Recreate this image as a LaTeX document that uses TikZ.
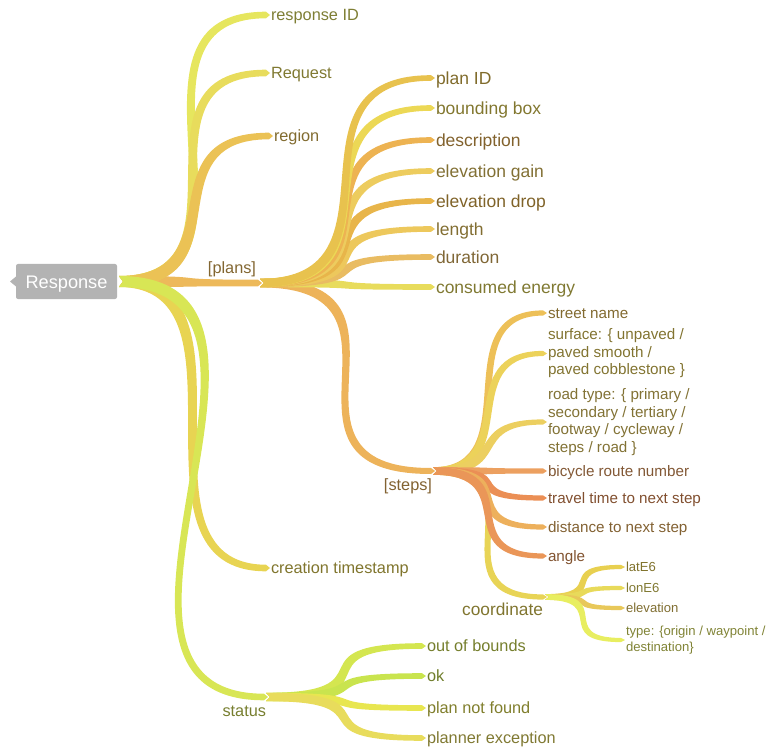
\documentclass[tikz,border=0pt]{standalone}
\usepackage{fontspec}
\setmainfont{Liberation Sans}
\usetikzlibrary{calc}

% branch colours
\definecolor{rootgray}{HTML}{B3B3B3}
\definecolor{cRid}{HTML}{E6E65E}
\definecolor{cReq}{HTML}{E8DC5C}
\definecolor{cReg}{HTML}{EBC255}
\definecolor{cPlans}{HTML}{EDB95A}
\definecolor{cCts}{HTML}{E8D452}
\definecolor{cStatus}{HTML}{D8E655}
\definecolor{cPid}{HTML}{E8C24E}
\definecolor{cBbox}{HTML}{ECD855}
\definecolor{cDesc}{HTML}{EDB352}
\definecolor{cEgain}{HTML}{EDCC5E}
\definecolor{cEdrop}{HTML}{E8B54A}
\definecolor{cLen}{HTML}{EDC85C}
\definecolor{cDur}{HTML}{E9BC62}
\definecolor{cEnergy}{HTML}{E8DC5C}
\definecolor{cSteps}{HTML}{EDB35A}
\definecolor{cStreet}{HTML}{EDC058}
\definecolor{cSurf}{HTML}{ECD25A}
\definecolor{cRoad}{HTML}{ECCF60}
\definecolor{cBike}{HTML}{ECA060}
\definecolor{cTtime}{HTML}{EB8F55}
\definecolor{cDist}{HTML}{EDB05C}
\definecolor{cAngle}{HTML}{EA9658}
\definecolor{cCoord}{HTML}{E8D456}
\definecolor{cLat}{HTML}{E8D050}
\definecolor{cLon}{HTML}{E8DA5A}
\definecolor{cElev}{HTML}{E8C85A}
\definecolor{cType}{HTML}{E8EE60}
\definecolor{cOob}{HTML}{D4E650}
\definecolor{cOk}{HTML}{C9E44E}
\definecolor{cPnf}{HTML}{E8E650}
\definecolor{cPex}{HTML}{E8DC5C}

% Tapered mind-map branch from #2 to #3, drawn as a filled band around an
% S-shaped cubic whose control points leave and arrive horizontally.
% #1 colour, #4 scale of the control offset, #5 half width at start, #6 half width at end.
\newcommand\branch[6]{%
  \fill[#1] let \p1=#2, \p2=#3,
    \n1={\x2-\x1},
    \n2={\y2-\y1},
    \n3={#4*(0.77*(\n1)+0.25*abs(\n2))},
    \n4={\x1+(\n3)},
    \n5={\x2-(\n3)},
    \n6={veclen((\n1)-(\n3),\n2)},
    \n9={-1.333*(\n2)/max(\n6,0.01)}
  in
    (\x1,{\y1+#5})
    .. controls ({(\n4)+(\n9)*#5},{\y1+#5}) and ({(\n5)+(\n9)*#6},{\y2+#6})
    .. (\x2,{\y2+#6})
    -- ({\x2+4},\y2)
    -- (\x2,{\y2-#6})
    .. controls ({(\n5)-(\n9)*#6},{\y2-#6}) and ({(\n4)-(\n9)*#5},{\y1-#5})
    .. (\x1,{\y1-#5})
    -- ({\x1+4},\y1) -- cycle;
}

\tikzset{
  rootbox/.style={fill=rootgray, text=white, rounded corners=2pt,
    minimum width=101pt, minimum height=35pt, inner sep=0pt, outer sep=0pt,
    outer xsep=2pt, font=\fontsize{18.2}{21}\selectfont,
    text height=13pt, text depth=0pt},
  leaf/.style={anchor=west, inner sep=0pt, outer sep=0pt, outer xsep=5pt,
    text=#1!55!black, text depth=0pt},
  mleaf/.style={anchor=west, inner sep=0pt, outer sep=0pt, outer xsep=5pt,
    text=#1!55!black, align=left},
  hub/.style={inner sep=0pt, outer sep=0pt, minimum width=2pt, minimum height=0pt},
  hubname/.style={inner sep=0pt, outer sep=0pt, anchor=base east, text=#1!55!black},
  fA/.style={font=\fontsize{16.3}{19}\selectfont, text height=11.7pt},
  fB/.style={font=\fontsize{17.5}{20}\selectfont, text height=12.6pt},
  fC/.style={font=\fontsize{15.2}{17.5}\selectfont, text height=10.9pt},
  fD/.style={font=\fontsize{13.1}{16}\selectfont, text height=9.4pt},
  fCm/.style={font=\fontsize{15.2}{17.5}\selectfont},
  fDm/.style={font=\fontsize{13.1}{16}\selectfont},
  fL/.style={font=\fontsize{16.3}{19}\selectfont},
  fLb/.style={font=\fontsize{17.3}{20}\selectfont},
}

\begin{document}
\begin{tikzpicture}[x=1pt,y=1pt]
\useasboundingbox (0,0) rectangle (766,-754);

% root
\node[rootbox] (root) at (66.5,-281.5) {Response};
\fill[rootgray] ([xshift=2pt,yshift=5pt]root.west) -- ([xshift=-4pt]root.west)
  -- ([xshift=2pt,yshift=-5pt]root.west) -- cycle;

% first level
\node[leaf=cRid, fA] (rid) at (266,-15) {response ID};
\node[leaf=cReq, fA] (req) at (266,-73) {Request};
\node[leaf=cReg, fA] (reg) at (269,-136) {region};
\node[hub] (plans) at (259,-283) {};
\node[hubname=cPlans, fL] (plansname) at (256,-273) {[plans]};
\node[leaf=cCts, fA] (cts) at (266,-568) {creation timestamp};
\node[hub] (status) at (265,-697) {};
\node[hubname=cStatus, fL] (statusname) at (266,-716) {status};

% plans
\node[leaf=cPid, fB] (pid) at (431,-78) {plan ID};
\node[leaf=cBbox, fB] (bbox) at (431,-108) {bounding box};
\node[leaf=cDesc, fB] (desc) at (431,-140) {description};
\node[leaf=cEgain, fB] (egain) at (431,-171) {elevation gain};
\node[leaf=cEdrop, fB] (edrop) at (431,-201) {elevation drop};
\node[leaf=cLen, fB] (len) at (431,-229) {length};
\node[leaf=cDur, fB] (dur) at (431,-257) {duration};
\node[leaf=cEnergy, fB] (energy) at (431,-287) {consumed energy};
\node[hub] (steps) at (432,-471) {};
\node[hubname=cSteps, fL] (stepsname) at (432,-490) {[steps]};

% steps
\node[leaf=cStreet, fC] (street) at (543,-313) {street name};
\node[mleaf=cSurf, fCm] (surface) at (543,-353.5) {surface: \{ unpaved /\\paved smooth /\\paved cobblestone \}};
\node[mleaf=cRoad, fCm] (road) at (543,-422) {road type: \{ primary /\\secondary / tertiary /\\footway / cycleway /\\steps / road \}};
\node[leaf=cBike, fC] (bike) at (543,-471) {bicycle route number};
\node[leaf=cTtime, fC] (ttime) at (543,-498) {travel time to next step};
\node[leaf=cDist, fC] (dist) at (543,-527) {distance to next step};
\node[leaf=cAngle, fC] (angle) at (543,-556) {angle};
\node[hub] (coord) at (544,-597) {};
\node[hubname=cCoord, fLb] (coordname) at (543,-615) {coordinate};

% coordinate
\node[leaf=cLat, fD] (lat) at (621,-567) {latE6};
\node[leaf=cLon, fD] (lon) at (621,-588) {lonE6};
\node[leaf=cElev, fD] (elev) at (621,-608) {elevation};
\node[mleaf=cType, fDm] (ptype) at (621,-640) {type: \{origin / waypoint /\\destination\}};

% status
\node[leaf=cOob, fA] (oob) at (422,-646) {out of bounds};
\node[leaf=cOk, fA] (ok) at (422,-676) {ok};
\node[leaf=cPnf, fA] (pnf) at (422,-708) {plan not found};
\node[leaf=cPex, fA] (pex) at (422,-738) {planner exception};

% branches from the root
\branch{cPlans}{(root.east)}{(plans.west)}{1}{5.5}{3.3}
\branch{cRid}{(root.east)}{(rid.west)}{0.9}{5.5}{3.3}
\branch{cReq}{(root.east)}{(req.west)}{0.88}{5.5}{3.3}
\branch{cReg}{(root.east)}{(reg.west)}{0.82}{5.5}{3.3}
\branch{cCts}{(root.east)}{(cts.west)}{0.8}{5.5}{3.3}
\branch{cStatus}{(root.east)}{(status.west)}{1}{5.5}{3.3}

% branches of [plans]
\branch{cSteps}{(plans.east)}{(steps.west)}{1}{4.4}{3}
\branch{cEnergy}{(plans.east)}{(energy.west)}{1}{4.2}{2.8}
\branch{cDur}{(plans.east)}{(dur.west)}{1}{4.2}{2.8}
\branch{cLen}{(plans.east)}{(len.west)}{1}{4.2}{2.8}
\branch{cEdrop}{(plans.east)}{(edrop.west)}{0.95}{4.2}{2.8}
\branch{cEgain}{(plans.east)}{(egain.west)}{0.92}{4.2}{2.8}
\branch{cDesc}{(plans.east)}{(desc.west)}{0.9}{4.2}{2.8}
\branch{cBbox}{(plans.east)}{(bbox.west)}{0.86}{4.2}{2.8}
\branch{cPid}{(plans.east)}{(pid.west)}{0.85}{4.2}{2.8}

% branches of [steps]
\branch{cCoord}{(steps.east)}{(coord.west)}{1}{3.8}{2.6}
\branch{cStreet}{(steps.east)}{(street.west)}{0.8}{3.8}{2.6}
\branch{cSurf}{(steps.east)}{(surface.west)}{0.8}{3.8}{2.6}
\branch{cRoad}{(steps.east)}{(road.west)}{0.82}{3.8}{2.6}
\branch{cBike}{(steps.east)}{(bike.west)}{1}{3.8}{2.6}
\branch{cTtime}{(steps.east)}{(ttime.west)}{1}{3.8}{2.6}
\branch{cDist}{(steps.east)}{(dist.west)}{0.95}{3.8}{2.6}
\branch{cAngle}{(steps.east)}{(angle.west)}{0.9}{3.8}{2.6}

% branches of coordinate
\branch{cLat}{(coord.east)}{(lat.west)}{1}{2.9}{2.1}
\branch{cLon}{(coord.east)}{(lon.west)}{1}{2.9}{2.1}
\branch{cElev}{(coord.east)}{(elev.west)}{1}{2.9}{2.1}
\branch{cType}{(coord.east)}{(ptype.west)}{1}{2.9}{2.1}

% branches of status
\branch{cOob}{(status.east)}{(oob.west)}{1}{4.2}{2.8}
\branch{cOk}{(status.east)}{(ok.west)}{1}{4.2}{2.8}
\branch{cPnf}{(status.east)}{(pnf.west)}{1}{4.2}{2.8}
\branch{cPex}{(status.east)}{(pex.west)}{1}{4.2}{2.8}
\end{tikzpicture}
\end{document}
